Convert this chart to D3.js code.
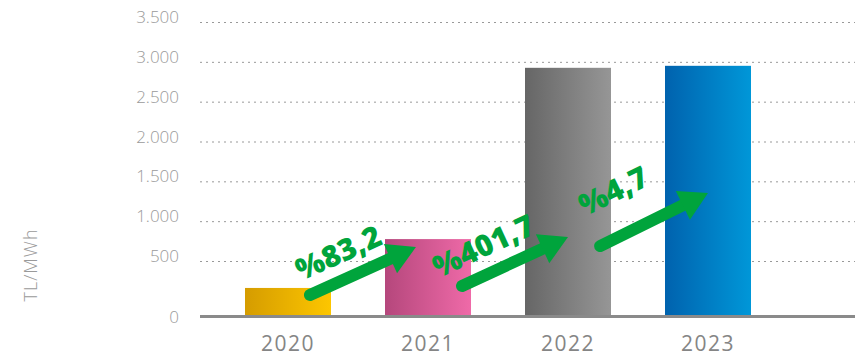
<!DOCTYPE html>
<html>
<head lang="tr">
  <title>TL/MWh</title>
  <script src="https://d3js.org/d3.v7.min.js" charset="utf-8"></script>
  <style>
    body { margin: 0; background: #fff; }
    text { font-family: "Open Sans", sans-serif; }
  </style>
</head>
<body>
  <script>
    // data
    var years = ["2020", "2021", "2022", "2023"];
    var values = [255, 775, 2925, 2950];
    var yTicks = [0, 500, 1000, 1500, 2000, 2500, 3000, 3500];
    var changeLabels = ["%83,2", "%401,7", "%4,7"];

    // arrow annotations (band offsets as share of step, values on y axis)
    var arrowTail = [[0.157, 191], [0.243, 273], [0.229, 688]];
    var arrowTip = [[-0.086, 675], [0.0, 801], [0.0, 1354]];
    var labelPos = [[0.357, 613], [0.393, 700], [0.321, 1390]];

    var barColors = [
      ["#d59c00", "#fdc600"],
      ["#b5477c", "#ef6aa8"],
      ["#666666", "#969696"],
      ["#0062ae", "#0097d8"]
    ];

    var width = 855;
    var height = 356;

    var svg = d3.select("body")
      .append("svg")
      .attr("width", width)
      .attr("height", height);

    var x = d3.scaleBand()
      .domain(years)
      .range([191, 805])
      .padding(0.3857);

    // the zero line sits lower than the even grid above it
    var y = d3.scaleLinear()
      .domain([0, 500, 3500])
      .range([316, 261, 22]);

    var fmt = d3.formatLocale({decimal: ",", thousands: ".", grouping: [3], currency: ["", ""]}).format(",");

    function cx(i, frac) {
      return x(years[i]) + x.bandwidth() / 2 + frac * x.step();
    }

    // gradients
    var defs = svg.append("defs");
    barColors.forEach(function(c, i) {
      var g = defs.append("linearGradient")
        .attr("id", "grad" + i)
        .attr("x1", "0%").attr("x2", "100%")
        .attr("y1", "0%").attr("y2", "0%");
      g.append("stop").attr("offset", "0%").attr("stop-color", c[0]);
      g.append("stop").attr("offset", "100%").attr("stop-color", c[1]);
    });

    // grid
    svg.append("g")
      .selectAll("line")
      .data(yTicks.filter(function(d) { return d > 0; }))
      .enter().append("line")
        .attr("x1", 200)
        .attr("x2", width)
        .attr("y1", function(d) { return y(d) + 0.5; })
        .attr("y2", function(d) { return y(d) + 0.5; })
        .style("stroke", "#999")
        .style("stroke-width", 1)
        .style("stroke-dasharray", "2,4");

    // tick labels
    svg.append("g")
      .selectAll("text")
      .data(yTicks)
      .enter().append("text")
        .attr("x", 179)
        .attr("y", function(d) { return d === 0 ? y(d) + 7 : y(d) + 1; })
        .attr("text-anchor", "end")
        .style("font-size", "17px")
        .style("font-weight", 300)
        .style("fill", "#9a9a9a")
        .text(function(d) { return fmt(d); });

    svg.append("text")
      .attr("transform", "translate(37,265) rotate(-90)")
      .attr("text-anchor", "middle")
      .style("font-size", "18px")
      .style("font-weight", 300)
      .style("fill", "#9a9a9a")
      .style("letter-spacing", "1px")
      .text("TL/MWh");

    // bars
    svg.append("g")
      .selectAll("rect")
      .data(values)
      .enter().append("rect")
        .attr("x", function(d, i) { return x(years[i]); })
        .attr("width", x.bandwidth())
        .attr("y", function(d) { return y(d); })
        .attr("height", function(d) { return y(0) - y(d); })
        .style("fill", function(d, i) { return "url(#grad" + i + ")"; });

    // baseline
    svg.append("line")
      .attr("x1", 200).attr("x2", width)
      .attr("y1", y(0) + 0.5).attr("y2", y(0) + 0.5)
      .style("stroke", "#8a8a8a")
      .style("stroke-width", 3);

    // year labels
    svg.append("g")
      .selectAll("text")
      .data(years)
      .enter().append("text")
        .attr("x", function(d) { return x(d) + x.bandwidth() / 2; })
        .attr("y", 351)
        .attr("text-anchor", "middle")
        .style("font-size", "21px")
        .style("fill", "#858585")
        .style("letter-spacing", "1.5px")
        .text(function(d) { return d; });

    // arrows
    var green = "#00a43c";
    var arrows = svg.append("g");
    changeLabels.forEach(function(lab, i) {
      var x0 = cx(i, arrowTail[i][0]), y0 = y(arrowTail[i][1]);
      var x1 = cx(i + 1, arrowTip[i][0]), y1 = y(arrowTip[i][1]);
      var dx = x1 - x0, dy = y1 - y0;
      var len = Math.sqrt(dx * dx + dy * dy);
      var ux = dx / len, uy = dy / len;
      var headLen = 28, headHalf = 16;
      var bx = x1 - ux * headLen, by = y1 - uy * headLen;

      arrows.append("line")
        .attr("x1", x0).attr("y1", y0)
        .attr("x2", bx + ux * 2).attr("y2", by + uy * 2)
        .style("stroke", green)
        .style("stroke-width", 12)
        .style("stroke-linecap", "round");

      arrows.append("path")
        .attr("d", "M" + x1 + "," + y1 +
          "L" + (bx - uy * headHalf) + "," + (by + ux * headHalf) +
          "L" + (bx + uy * headHalf) + "," + (by - ux * headHalf) + "Z")
        .style("fill", green);

      var angle = Math.atan2(dy, dx) * 180 / Math.PI;
      arrows.append("text")
        .attr("transform", "translate(" + cx(i, labelPos[i][0]) + "," + y(labelPos[i][1]) + ") rotate(" + angle + ")")
        .attr("text-anchor", "middle")
        .attr("dominant-baseline", "central")
        .style("font-size", "30px")
        .style("font-weight", 800)
        .style("fill", green)
        .text(lab);
    });
  </script>
</body>
</html>
